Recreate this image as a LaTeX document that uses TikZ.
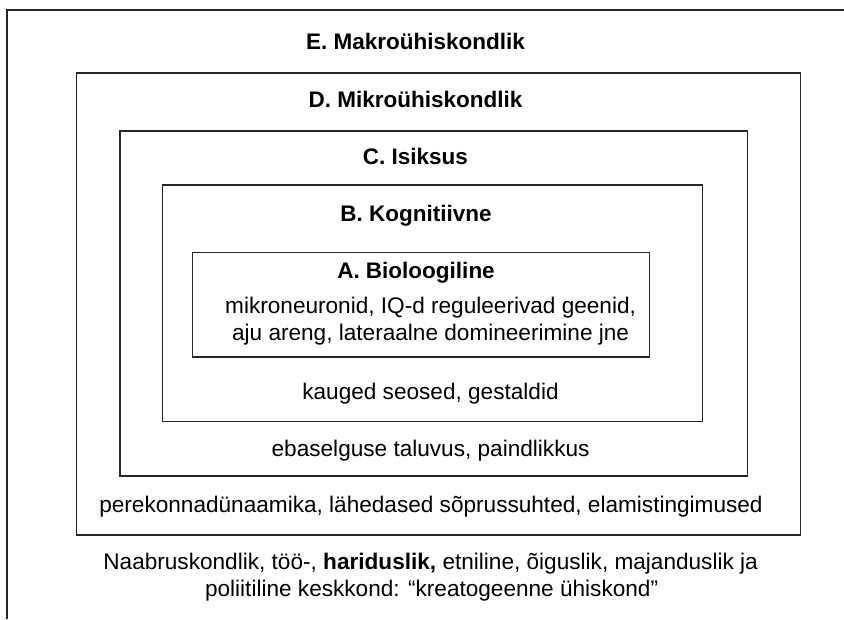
\documentclass[tikz,border=0pt]{standalone}
\usepackage{fontspec}
\setmainfont{Liberation Sans}
\begin{document}
\begin{tikzpicture}[x=1pt,y=-1pt,
  box/.style={draw=black!85,line width=1.3pt,inner sep=0pt,fill=none},
  lbl/.style={anchor=base,inner sep=0pt,font=\fontsize{22.6}{27}\selectfont},
  ttl/.style={lbl,font=\fontsize{22.5}{27}\selectfont\bfseries}]
\useasboundingbox[fill=white] (0,0) rectangle (844,619);
% outer frame (E)
\coordinate (Ebl) at (7,619);
\coordinate (Etl) at (7,10);
\coordinate (Etr) at (844,10);
\draw[black!85,line width=1.3pt] (Ebl) -- (Etl) -- (Etr);
% nested boxes
\node[box,minimum width=724pt,minimum height=462pt] (D) at (438.7,304) {};
\node[box,minimum width=627.3pt,minimum height=345pt] (C) at (433.65,303.5) {};
\node[box,minimum width=539.6pt,minimum height=236.7pt] (B) at (432.5,303.35) {};
\node[box,minimum width=457pt,minimum height=104.3pt] (A) at (420.8,304.85) {};
% titles
\node[ttl] (tE) at (415.5,49.3) {E. Makroühiskondlik};
\node[ttl] (tD) at (415.5,107.3) {D. Mikroühiskondlik};
\node[ttl] (tC) at (415.5,164.5) {C. Isiksus};
\node[ttl] (tB) at (416,221.8) {B. Kognitiivne};
\node[ttl] (tA) at (416,278.6) {A. Bioloogiline};
% descriptions
\node[lbl] (a1) at (430.6,313.8) {mikroneuronid, IQ-d reguleerivad geenid,};
\node[lbl] (a2) at (430.6,340.4) {aju areng, lateraalne domineerimine jne};
\node[lbl] (b1) at (430.5,399.2) {kauged seosed, gestaldid};
\node[lbl] (c1) at (430.6,456.2) {ebaselguse taluvus, paindlikkus};
\node[lbl] (d1) at (431,512.2) {perekonnadünaamika, lähedased sõprussuhted, elamistingimused};
\node[lbl] (e1) at (430.6,569.2) {Naabruskondlik, töö-, \textbf{hariduslik,} etniline, õiguslik, majanduslik ja};
\node[lbl] (e2) at (431.6,596.2) {poliitiline keskkond: “kreatogeenne ühiskond”};
\end{tikzpicture}
\end{document}
